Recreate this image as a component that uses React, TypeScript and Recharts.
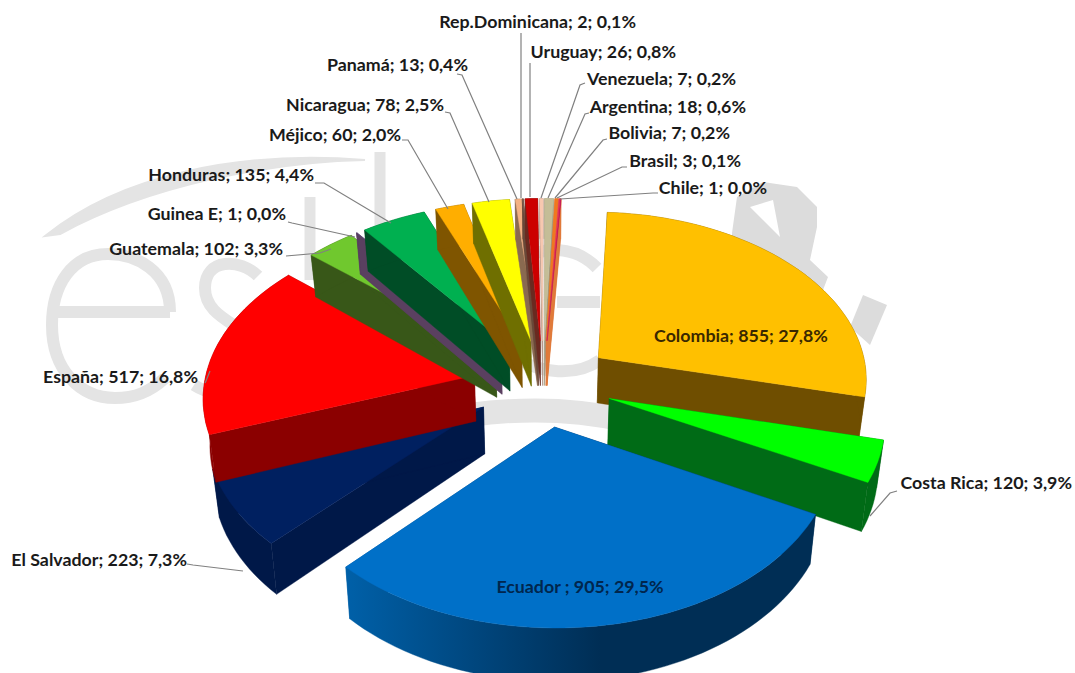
import { PieChart, Pie } from 'recharts'

const names = ['Colombia', 'Costa Rica', 'Ecuador ', 'El Salvador', 'España', 'Guatemala', 'Guinea E', 'Honduras', 'Méjico', 'Nicaragua', 'Panamá', 'Rep.Dominicana', 'Uruguay', 'Venezuela', 'Argentina', 'Bolivia', 'Brasil', 'Chile']
const counts = [855, 120, 905, 223, 517, 102, 1, 135, 60, 78, 13, 2, 26, 7, 18, 7, 3, 1]
const shares = ['27,8%', '3,9%', '29,5%', '7,3%', '16,8%', '3,3%', '0,0%', '4,4%', '2,0%', '2,5%', '0,4%', '0,1%', '0,8%', '0,2%', '0,6%', '0,2%', '0,1%', '0,0%']

const tops = ['#FFC000', '#00FF00', '#0070C8', '#002060', '#FF0000', '#70C82E', '#604A7B', '#00B050', '#FFAE00', '#FFFF00', '#F4B183', '#7F6050', '#CC0000', '#F8C8B0', '#C4BD97', '#F07820', '#E8305A', '#C00060']
const walls = ['#6F4E00', '#006B16', 'url(#ecuadorWall)', '#001848', '#8B0000', '#385718', '#5A4060', '#004D26', '#7F5500', '#6F6F00', '#8A6A50', '#6A4A3A', '#6A2A20', '#B09080', '#A09A80', '#E07A3A', '#E07A3A', '#E07A3A']

// label text anchor and baseline
const labelX = [741, 1072, 580, 187, 198, 283, 286, 314, 401, 444, 468, 636, 676, 736, 746, 730, 741, 767]
const labelY = [342, 489, 593, 566, 383, 255, 220, 181, 141, 111, 71, 28, 58, 85, 113, 139, 167, 194]
const anchors = ['middle', 'end', 'middle', 'end', 'end', 'end', 'end', 'end', 'end', 'end', 'end', 'end', 'end', 'end', 'end', 'end', 'end', 'end']
// leader lines: text side, elbow, slice side
const lineStart: (number[] | null)[] = [null, [897, 491], null, [187, 564], [205, 383], [286, 256], [288, 222], [315, 183], [402, 140], [445, 112], [457, 74], [521, 33], [530, 63], [585, 83], [589, 113], [607, 139], [627, 167], [658, 193]]
const elbow: (number[] | null)[] = [null, [890, 493], null, [193, 565], [206, 381], [320, 253], [292, 223], [324, 183], [408, 140], [450, 113], [462, 75], [521, 34], [530, 64], [580, 85], [585, 114], [603, 140], [622, 167], [653, 193]]
const lineEnd: (number[] | null)[] = [null, [870, 516], null, [243, 571], [210, 371], [331, 249], [355, 237], [391, 223], [448, 209], [489, 202], [517, 199], [521, 198], [530, 197], [541, 198], [548, 198], [555, 198], [557, 198], [560, 199]]

const chartData = names.map((name, i) => ({ name, value: counts[i] }))

const CX = 543
const CY = 383
const RADIUS = 270
const EXPLODE = 70
const TILT = 0.62
const PERSPECTIVE = 0.113
const DEPTH = 46
const BOTTOM_SHRINK = 0.98
const ARC_STEP = 2

// disc coordinates -> screen, camera above and in front of the pie
function project(x: number, y: number, z: number, r: number) {
  const k = 1 / (1 - (PERSPECTIVE * y) / r)
  const s = z > 0 ? BOTTOM_SHRINK : 1
  return [CX + x * k * s, CY + (y * TILT + z) * k]
}

function toPath(pts: number[][]) {
  return pts.map((p, i) => `${i ? 'L' : 'M'}${p[0].toFixed(1)} ${p[1].toFixed(1)}`).join(' ') + ' Z'
}

function Slice3D(props: any) {
  const { startAngle, endAngle, outerRadius, index } = props
  const r = outerRadius
  // recharts angles are counter-clockwise from 3 o'clock
  const a0 = ((90 - startAngle) * Math.PI) / 180
  const a1 = ((90 - endAngle) * Math.PI) / 180
  const mid = (a0 + a1) / 2
  const ox = Math.sin(mid) * EXPLODE
  const oy = -Math.cos(mid) * EXPLODE
  const rim: number[][] = []
  const steps = Math.max(1, Math.ceil(((a1 - a0) * 180) / Math.PI / ARC_STEP))
  for (let i = 0; i <= steps; i++) {
    const a = a0 + ((a1 - a0) * i) / steps
    rim.push([ox + Math.sin(a) * r, oy - Math.cos(a) * r])
  }
  const at = (p: number[], z: number) => project(p[0], p[1], z, r)
  const apex = [ox, oy]
  const topFace = [at(apex, 0), ...rim.map(p => at(p, 0))]
  const last = rim[rim.length - 1]
  const wallPaths = [
    toPath([at(apex, 0), at(rim[0], 0), at(rim[0], DEPTH), at(apex, DEPTH)]),
    toPath([at(apex, 0), at(last, 0), at(last, DEPTH), at(apex, DEPTH)]),
    toPath([...rim.map(p => at(p, 0)), ...[...rim].reverse().map(p => at(p, DEPTH))]),
  ]
  const wall = walls[index]
  return (
    <g>
      {wallPaths.map((d, i) => (
        <path key={i} d={d} fill={wall} stroke={wall} strokeWidth={0.4} />
      ))}
      <path d={toPath(topFace)} fill={tops[index]} stroke={tops[index]} strokeWidth={0.4} />
    </g>
  )
}

function SliceLabel(props: any) {
  const { index } = props
  const start = lineStart[index]
  const bend = elbow[index]
  const end = lineEnd[index]
  const fill = index === 0 ? '#3A2800' : index === 2 ? '#00264D' : '#1A1A1A'
  return (
    <g>
      {start && bend && end && (
        <polyline
          points={`${start[0]},${start[1]} ${bend[0]},${bend[1]} ${end[0]},${end[1]}`}
          fill="none"
          stroke="#808080"
          strokeWidth={1.2}
        />
      )}
      <text x={labelX[index]} y={labelY[index]} textAnchor={anchors[index] as any} fontFamily="Lato" fontWeight={700} fontSize={17.8} fill={fill}>
        {`${names[index]}; ${counts[index]}; ${shares[index]}`}
      </text>
    </g>
  )
}

// pale logo behind the pie
function Watermark() {
  return (
    <svg width={1075} height={673} style={{ position: 'absolute', left: 0, top: 0 }}>
      <g fill="none" stroke="#E4E4E4">
        <path d="M45 236 C120 175 240 150 365 160 C270 162 150 185 60 234 Z" fill="#E4E4E4" strokeWidth={2} />
        <path d="M170 312 L57 312 M170 312 C170 270 135 254 108 254 C72 254 52 285 52 325 C52 370 80 398 115 398 C135 398 150 392 165 378" strokeWidth={12} />
        <path d="M258 276 C240 258 205 258 205 288 C205 325 262 325 262 362 C262 395 220 402 194 385" strokeWidth={12} />
        <path d="M380 152 L380 300" strokeWidth={11} />
        <path d="M310 197 L310 280" strokeWidth={11} />
        <path d="M597 268 C575 245 540 245 520 262 M557 302 L600 302 M600 360 C575 378 540 372 520 360" strokeWidth={12} />
        <path d="M470 415 C520 408 570 408 625 420" strokeWidth={24} />
      </g>
      <path d="M732 233 L737 197 L763 182 L797 187 L817 207 L817 227 L810 260 L828 277 L823 290 L760 300 L732 260 Z M750 207 L773 200 L780 237 Z" fill="#DCDCDC" fillRule="evenodd" />
      <path d="M863 295 L887 305 L870 345 L850 327 Z" fill="#DCDCDC" />
    </svg>
  )
}

export default function App() {
  return (
    <div style={{ position: 'absolute', left: 0, top: 0, width: 1075, height: 673, overflow: 'hidden', background: '#fff' }}>
      <Watermark />
      <div style={{ position: 'absolute', left: 0, top: 0 }}>
        <svg width={0} height={0} style={{ position: 'absolute' }}>
          <defs>
            <linearGradient id="ecuadorWall" gradientUnits="userSpaceOnUse" x1={347} y1={0} x2={600} y2={0}>
              <stop offset="0%" stopColor="#0060A8" />
              <stop offset="55%" stopColor="#00447A" />
              <stop offset="100%" stopColor="#002E55" />
            </linearGradient>
          </defs>
        </svg>
        <PieChart width={1075} height={673} margin={{ top: 0, right: 0, bottom: 0, left: 0 }}>
          <Pie
            data={chartData}
            dataKey="value"
            nameKey="name"
            cx={CX}
            cy={CY}
            innerRadius={0}
            outerRadius={RADIUS}
            startAngle={86.5}
            endAngle={-273.5}
            paddingAngle={0}
            stroke="none"
            shape={Slice3D}
            label={SliceLabel}
            labelLine={false}
            isAnimationActive={false}
          />
        </PieChart>
      </div>
    </div>
  )
}
